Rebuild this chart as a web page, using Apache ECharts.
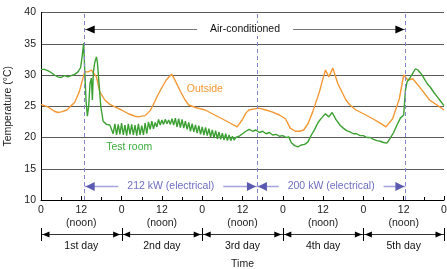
<!DOCTYPE html>
<html>
<head>
<meta charset="utf-8">
<script src="https://cdn.jsdelivr.net/npm/echarts@6/dist/echarts.min.js"></script>
</head>
<body style="margin:0">
<div id="container" style="width:447px;height:269px"></div>
<script>
// hours since 0:00 of the 1st day, temperature in degC
var outside = [[0,25.3],[2,24.9],[4,24.2],[5,24.0],[6,24.1],[7.7,24.4],[9,25.1],[10,25.6],[11,26.8],[11.5,27.5],[12.1,28.7],[13,30.5],[14,30.5],[15,30.8],[16.5,29.7],[17.5,27.3],[19,26.0],[20.5,25.3],[22,24.9],[24,24.4],[26,23.8],[28,23.4],[29,23.3],[31,23.5],[32.5,24.3],[33.4,25.2],[34.8,26.8],[36,28.0],[37.3,29.2],[38.3,29.8],[38.9,30.1],[39.5,29.6],[40.5,28.5],[41.5,27.4],[42.9,26.0],[44,25.2],[46,24.8],[48.9,24.4],[51,23.8],[53.9,23.0],[56,22.4],[58.4,21.7],[59.9,22.8],[61,23.9],[61.9,24.4],[64.8,24.7],[67,24.4],[68.8,24.1],[71,23.6],[72.8,23.0],[74.2,21.5],[75.7,21.0],[77,21.0],[78.2,21.2],[79.5,22.2],[80.9,24.1],[82.9,27.3],[84,29.5],[84.7,30.8],[85.7,29.7],[86.9,31.1],[88.4,28.6],[90.8,26.0],[92,25.2],[93.8,24.4],[96,23.8],[98.8,23.0],[101,22.3],[102.7,21.7],[104.7,23.0],[106.7,26.2],[108,30.0],[109.2,29.2],[110.7,29.4],[112.7,28.1],[115.7,26.0],[118.7,24.9],[120,24.4]];

var roomBefore = [[0,30.9],[1,30.9],[2,30.7],[3,30.4],[4,30.0],[5,29.7],[6,29.6],[7,29.9],[8,29.7],[9,29.9],[10,30.1],[11,30.5],[11.8,31.2],[12.3,33.2],[12.7,35.1],[13.0,31.0],[13.4,26.0],[13.8,23.4],[14.2,25.0],[14.6,28.7],[15.0,29.5],[15.3,26.0],[15.6,30.5],[16.0,32.0],[16.5,32.9],[16.8,32.0],[17.3,28.5],[17.8,25.0],[18.5,22.6],[19.5,22.1],[20.5,22.0]];

// half-hourly readings while the room air-conditioner cycles, from 21 h
var cycleStart = 21;
var roomCycling = [22.0,20.6,22.2,20.4,22.1,20.5,22.3,20.4,22.0,20.3,22.2,20.5,22.1,20.4,22.0,20.3,22.2,20.4,21.9,20.4,22.3,20.6,22.5,21.3,22.6,21.4,22.4,21.7,22.9,22.0,22.8,22.1,22.9,22.2,22.8,22.1,23.0,22.0,23.1,21.7,23.0,21.6,22.9,21.5,22.6,21.3,22.4,21.0,22.2,20.9,22.0,20.7,21.9,20.5,21.7,20.4,21.6,20.3,21.4,20.1,21.2,19.9,21.1,19.8,20.9,19.7,20.7,19.6,20.6,19.5,20.4,19.5,20.2,19.6,20.0];

var roomAfter = [[58.5,20.0],[59,20.2],[60,20.6],[61,21.0],[62,21.3],[63,21.0],[64,21.2],[65,20.8],[66,21.0],[67,20.6],[68,20.8],[69,20.4],[70,20.5],[71,20.2],[72,20.3],[73,20.0],[73.8,20.1],[74.5,19.2],[75.5,18.7],[76.5,18.5],[77.5,18.8],[78.5,18.9],[79.5,19.3],[80.5,20.4],[81.5,21.3],[82.5,22.4],[83.5,23.1],[84.7,23.8],[85.7,23.3],[86.7,24.0],[87.8,22.9],[89,22.0],[90,21.5],[91,21.1],[92,20.9],[93,20.6],[94,20.6],[95,20.3],[96,20.3],[97,20.0],[98,20.0],[99,19.7],[100,19.5],[101,19.4],[102,19.2],[103,19.1],[104,19.9],[105,20.8],[106,22.0],[107,23.1],[108,23.6],[108.4,23.9],[108.5,27.5],[109,28.9],[109.7,29.4],[110.5,30.1],[111.5,31.0],[112.2,30.8],[113.2,30.2],[114,29.5],[115,28.6],[116,28.0],[117,27.2],[118,26.5],[119,25.8],[120,25.1]];

var xTickLabels = ['0','12','0','12','0','12','0','12','0','12','0'];
var noonLabel = '(noon)';
var dayLabels = ['1st day','2nd day','3rd day','4th day','5th day'];
var switchHours = [13, 64.3, 108.5];          // AC on, power change, AC off
var powerLabels = ['212 kW (electrical)', '200 kW (electrical)'];

var testRoom = roomBefore.slice();
roomCycling.forEach(function (v, i) { testRoom.push([cycleStart + i * 0.5, v]); });
testRoom = testRoom.concat(roomAfter);

var font = '"Liberation Sans", Arial, Helvetica, sans-serif';
var orange = '#f39834';
var green = '#3ca032';
var blueDash = '#8585cc';

var chart = echarts.init(document.getElementById('container'));
chart.setOption({
    animation: false,
    textStyle: {fontFamily: font},
    grid: {left: 41, right: 3, top: 12.5, bottom: 69, outerBoundsMode: 'none', containLabel: false},
    xAxis: {
        type: 'value', min: 0, max: 120, interval: 12,
        name: 'Time', nameLocation: 'middle', nameGap: 59,
        nameTextStyle: {fontSize: 10.5, color: '#222'},
        axisLine: {lineStyle: {color: '#000'}},
        axisTick: {inside: true, length: 4, lineStyle: {color: '#000'}},
        minorTick: {show: true, splitNumber: 2, length: 3, lineStyle: {color: '#000'}},
        splitLine: {show: false},
        axisLabel: {
            color: '#222', fontSize: 10.5, margin: 3, lineHeight: 13.5,
            formatter: function (v) {
                var i = Math.round(v / 12);
                return xTickLabels[i] + (i % 2 ? '\n' + noonLabel : '');
            }
        }
    },
    yAxis: {
        type: 'value', min: 10, max: 40, interval: 5,
        name: 'Temperature (°C)', nameLocation: 'middle', nameGap: 26,
        nameTextStyle: {fontSize: 10.5, color: '#222'},
        axisLine: {show: true, lineStyle: {color: '#000'}},
        axisTick: {show: false},
        splitLine: {lineStyle: {color: '#5a5a5a', width: 1}},
        axisLabel: {color: '#222', fontSize: 10.5, margin: 5}
    },
    series: [
        {
            name: 'Outside', type: 'line', data: outside, showSymbol: false,
            lineStyle: {color: orange, width: 1.4}, z: 2,
            markLine: {
                silent: true, symbol: ['none', 'none'], label: {show: false},
                lineStyle: {color: blueDash, type: [4, 3], width: 1},
                data: switchHours.map(function (h) { return {xAxis: h}; })
            }
        },
        {
            name: 'Test room', type: 'line', data: testRoom, showSymbol: false,
            lineStyle: {color: green, width: 1.4}, z: 3
        }
    ]
});

function px(h, t) { return chart.convertToPixel({gridIndex: 0}, [h, t]); }

var g = [];
function hline(x1, x2, y, color, w) {
    g.push({type: 'line', silent: true, shape: {x1: x1, y1: y, x2: x2, y2: y},
        style: {stroke: color, lineWidth: w}, z: 10});
}
function head(x, y, dir, len, half, color) {
    g.push({type: 'polygon', silent: true,
        shape: {points: [[x, y], [x - dir * len, y - half], [x - dir * len, y + half]]},
        style: {fill: color}, z: 11});
}
function label(text, x, y, color, align, pad) {
    g.push({type: 'text', silent: true, z: 12,
        style: {text: text, x: x, y: y, fill: color, font: '10.5px ' + font,
            align: align, verticalAlign: 'middle',
            backgroundColor: pad ? '#fff' : null, padding: pad || 0}});
}

// air-conditioned span
var acY = Math.round(px(0, 37.3)[1]) + 0.5;
var xOn = px(switchHours[0], 0)[0], xOff = px(switchHours[2], 0)[0], xMid = px(switchHours[1], 0)[0];
hline(xOn, xOff, acY, '#777', 1.2);
head(xOn + 1, acY, -1, 9, 4, '#000');
head(xOff - 1, acY, 1, 9, 4, '#000');
label('Air-conditioned', (xOn + xOff) / 2, acY, '#111', 'center', [1, 13]);

// electrical power spans
var pY = Math.round(px(0, 12.25)[1]) + 0.5;
[[xOn, xMid], [xMid, xOff]].forEach(function (s, i) {
    hline(s[0], s[1], pY, '#a3a3dc', 1.4);
    head(s[0] + 1, pY, -1, 9, 4.5, '#5a5ab0');
    head(s[1] - 1, pY, 1, 9, 4.5, '#5a5ab0');
    label(powerLabels[i], (s[0] + s[1]) / 2, pY, '#6e6ec0', 'center', [1, 9]);
});

// day spans under the axis
var axisY = px(0, 10)[1];
var dY = Math.round(axisY + 34) + 0.5;
hline(px(0, 0)[0], px(120, 0)[0], dY, '#333', 1.2);
for (var d = 0; d <= dayLabels.length; d++) {
    var bx = Math.round(px(d * 24, 0)[0]) + 0.5;
    g.push({type: 'line', silent: true, shape: {x1: bx, y1: dY - 6.5, x2: bx, y2: dY + 6.5},
        style: {stroke: '#000', lineWidth: 1}, z: 11});
}
dayLabels.forEach(function (name, i) {
    var a = px(i * 24, 0)[0], b = px((i + 1) * 24, 0)[0];
    head(a + 1.5, dY, -1, 7, 3, '#000');
    head(b - 1.5, dY, 1, 7, 3, '#000');
    label(name, (a + b) / 2, dY + 12, '#111', 'center');
});

// series names
var po = px(43.4, 27.7);
label('Outside', po[0], po[1], orange, 'left');
var pr = px(19.4, 18.4);
label('Test room', pr[0], pr[1], '#3fae3f', 'left');

chart.setOption({graphic: g});
</script>
</body>
</html>
